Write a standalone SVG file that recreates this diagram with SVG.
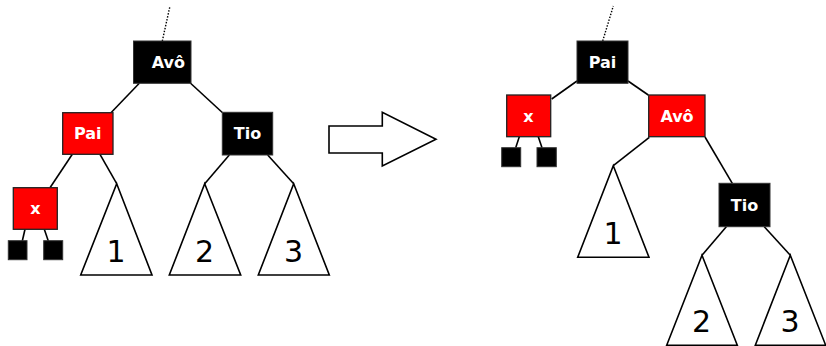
<svg xmlns="http://www.w3.org/2000/svg" width="826" height="346" viewBox="0 0 826 346">
<style>
.edge{stroke:#000;stroke-width:1.6;fill:none}
.dot{stroke:#000;stroke-width:1.4;stroke-dasharray:1.5,1.5;fill:none}
.blk{fill:#000;stroke:#333;stroke-width:1}
.red{fill:#ff0000;stroke:#222;stroke-width:1.3}
.lab{font-family:"DejaVu Sans",sans-serif;font-weight:bold;font-size:16px;fill:#fff;text-anchor:middle}
.tri{fill:#fff;stroke:#000;stroke-width:1.6}
.num{font-family:"DejaVu Sans",sans-serif;font-size:30px;fill:#000;text-anchor:middle}
</style>
<g id="connectors">
<line class="dot" x1="162.3" y1="41" x2="170" y2="6"/>
<line class="edge" x1="139.3" y1="83.3" x2="111" y2="112.7"/>
<line class="edge" x1="190.3" y1="83" x2="222.3" y2="112.5"/>
<line class="edge" x1="72.3" y1="154.3" x2="50" y2="187.7"/>
<line class="edge" x1="100" y1="154.3" x2="116.7" y2="183.7"/>
<line class="edge" x1="25" y1="229.3" x2="22.3" y2="241"/>
<line class="edge" x1="44.3" y1="229.3" x2="48.3" y2="241"/>
<line class="edge" x1="229.3" y1="155" x2="204.7" y2="183.7"/>
<line class="edge" x1="267.7" y1="155" x2="293.7" y2="183.7"/>
<line class="dot" x1="602.7" y1="41" x2="613.3" y2="6"/>
<line class="edge" x1="577" y1="81" x2="551.7" y2="99"/>
<line class="edge" x1="628" y1="81" x2="648.3" y2="95"/>
<line class="edge" x1="519.3" y1="136.7" x2="515.7" y2="147.7"/>
<line class="edge" x1="538.3" y1="136.7" x2="542" y2="147.7"/>
<line class="edge" x1="649.3" y1="137.3" x2="613.3" y2="165.7"/>
<line class="edge" x1="705" y1="137" x2="732.3" y2="183.3"/>
<line class="edge" x1="726.3" y1="226.7" x2="702" y2="255.3"/>
<line class="edge" x1="764.3" y1="226.7" x2="790.3" y2="255.3"/>
</g>
<g id="arrow">
<polygon points="329,126 382.3,126 382.3,112.3 436,139.3 382.3,166 382.3,153 329,153" fill="#fff" stroke="#000" stroke-width="1.6"/>
</g>
<g id="L-avo"><rect class="blk" x="133.5" y="41" width="57.5" height="42.3"/><text class="lab" x="168.3" y="68">Avô</text></g>
<g id="L-pai"><rect class="red" x="62.7" y="112.7" width="50.3" height="41.6"/><text class="lab" x="87.8" y="139">Pai</text></g>
<g id="L-tio"><rect class="blk" x="222.3" y="112.3" width="50.4" height="42.7"/><text class="lab" x="247.5" y="139">Tio</text></g>
<g id="L-x"><rect class="red" x="13.3" y="187.7" width="44" height="41.6"/><text class="lab" x="35.3" y="214">x</text></g>
<g id="L-leaf1"><rect class="blk" x="8.3" y="240.7" width="18.7" height="19"/></g>
<g id="L-leaf2"><rect class="blk" x="43.7" y="240.7" width="19" height="19"/></g>
<g id="L-t1"><polygon class="tri" points="116.7,183.7 152,275 80.7,275"/><text class="num" x="116" y="262">1</text></g>
<g id="L-t2"><polygon class="tri" points="204.7,183.7 240.7,275 169.3,275"/><text class="num" x="204.5" y="262">2</text></g>
<g id="L-t3"><polygon class="tri" points="293.7,183.7 329.3,275 258.3,275"/><text class="num" x="293.5" y="262">3</text></g>
<g id="R-pai"><rect class="blk" x="577" y="41" width="51" height="42.3"/><text class="lab" x="602.5" y="68">Pai</text></g>
<g id="R-x"><rect class="red" x="506.7" y="95" width="44" height="41.7"/><text class="lab" x="528.5" y="122">x</text></g>
<g id="R-leaf1"><rect class="blk" x="501.7" y="147.7" width="19" height="19"/></g>
<g id="R-leaf2"><rect class="blk" x="537" y="147.7" width="19.3" height="19"/></g>
<g id="R-avo"><rect class="red" x="648.7" y="95" width="56.3" height="41.7"/><text class="lab" x="677" y="122">Avô</text></g>
<g id="R-tio"><rect class="blk" x="719" y="183.3" width="51" height="43.4"/><text class="lab" x="744.5" y="210.7">Tio</text></g>
<g id="R-t1"><polygon class="tri" points="613.3,165.7 649,257.3 577.7,257.3"/><text class="num" x="613" y="244">1</text></g>
<g id="R-t2"><polygon class="tri" points="702,255.3 737.3,345.3 666.7,345.3"/><text class="num" x="701.5" y="332">2</text></g>
<g id="R-t3"><polygon class="tri" points="790.3,255.3 825.7,345.3 755.3,345.3"/><text class="num" x="790" y="332">3</text></g>
</svg>
